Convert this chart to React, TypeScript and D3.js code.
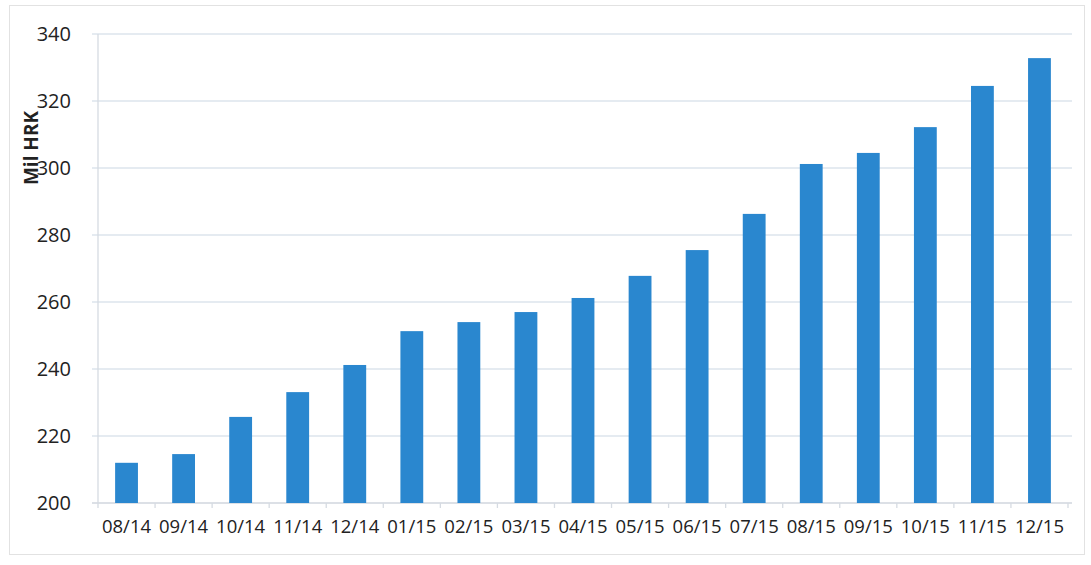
import React from "react";
import * as d3 from "d3";

const categories = ["08/14","09/14","10/14","11/14","12/14","01/15","02/15","03/15","04/15","05/15","06/15","07/15","08/15","09/15","10/15","11/15","12/15"];
const values = [212, 214.6, 225.7, 233.1, 241.2, 251.3, 254, 257, 261.2, 267.8, 275.5, 286.3, 301.2, 304.5, 312.2, 324.5, 332.8];
const yTicks = [200, 220, 240, 260, 280, 300, 320, 340];
const yLabel = "Mil HRK";

export default function App() {
  const W = 1091, H = 565;
  const left = 98, right = 1068, top = 34, bottom = 503;
  const x = d3.scaleBand<string>().domain(categories).range([left, right]).paddingInner(0.6).paddingOuter(0.3);
  const xb = d3.scaleBand<string>().domain(categories).range([left, right]);
  const y = d3.scaleLinear().domain([200, 340]).range([bottom, top]);
  const font = "'Open Sans', 'Liberation Sans', sans-serif";
  return (
    <svg width={W} height={H} style={{ position: "absolute", left: 0, top: 0, background: "#fff" }}>
      <rect x={9.5} y={5.5} width={1075} height={549} fill="#fff" stroke="#e2e2e2" />
      {yTicks.map(t => (
        <g key={t}>
          <line x1={left - 6} x2={right + 4} y1={y(t)} y2={y(t)} stroke={t === 200 ? "#d0d6de" : "#dde4ec"} strokeWidth={1.3} />
          <text x={71} y={y(t)} dy="0.36em" textAnchor="end" fontFamily={font} fontSize={20} fill="#222">{t}</text>
        </g>
      ))}
      <line x1={left} x2={left} y1={top} y2={bottom + 5} stroke="#d6dbe2" strokeWidth={1.3} />
      {categories.map((c, i) => (
        <line key={"t" + c} x1={(xb(c) as number) + xb.bandwidth()} x2={(xb(c) as number) + xb.bandwidth()} y1={bottom} y2={bottom + 5} stroke="#d6dbe2" strokeWidth={1.3} />
      ))}
      {categories.map((c, i) => (
        <rect key={c} x={x(c)} y={y(values[i])} width={x.bandwidth()} height={bottom - y(values[i])} fill="#2a87cf" />
      ))}
      {categories.map(c => (
        <text key={"l" + c} x={(xb(c) as number) + xb.bandwidth() / 2} y={533} textAnchor="middle" fontFamily={font} fontSize={18.5} fill="#222">{c}</text>
      ))}
      <text transform={`translate(38,148) rotate(-90)`} textAnchor="middle" fontFamily={font} fontSize={19} fontWeight="bold" fill="#222">{yLabel}</text>
    </svg>
  );
}
